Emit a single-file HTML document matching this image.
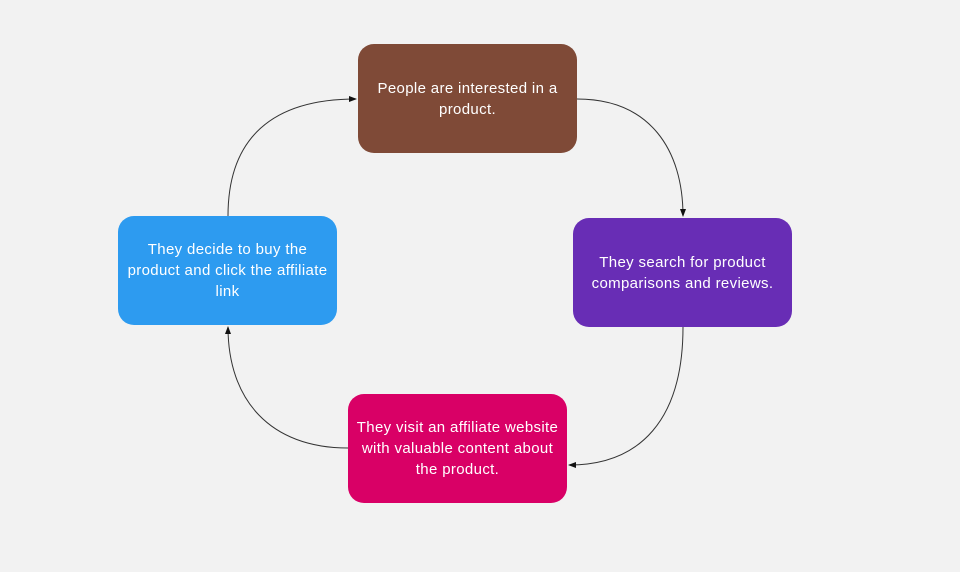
<!DOCTYPE html>
<html><head><meta charset="utf-8"><style>
body{margin:0;width:960px;height:572px;background:#f2f2f2;position:relative;overflow:hidden;font-family:"Liberation Sans","DejaVu Sans",sans-serif}
.b{position:absolute;width:219px;height:109px;border-radius:16px;color:#fff;font-size:15px;letter-spacing:0.35px;line-height:21px;display:flex;align-items:center;justify-content:center;text-align:center;box-sizing:border-box;padding:0 5px}
svg{position:absolute;left:0;top:0}
</style></head><body>
<svg width="960" height="572">
<defs><marker id="a" markerWidth="8" markerHeight="8" refX="7" refY="4" orient="auto" markerUnits="userSpaceOnUse"><path d="M0,1 L8,4 L0,7 z" fill="#111"/></marker></defs>
<g fill="none" stroke="#333" stroke-width="1">
<path d="M577,99 C650,99 683,150 683,216" marker-end="url(#a)"/>
<path d="M683,327 C683,420 640,465 569,465" marker-end="url(#a)"/>
<path d="M348,448 C270,448 228,400 228,327" marker-end="url(#a)"/>
<path d="M228,216 C228,140 270,99 356,99" marker-end="url(#a)"/>
</g></svg>
<div class="b" style="left:358px;top:44px;background:#7f4a37">People are interested in a product.</div>
<div class="b" style="left:573px;top:218px;background:#682db5">They search for product comparisons and reviews.</div>
<div class="b" style="left:348px;top:394px;background:#d90066">They visit an affiliate website with valuable content about the product.</div>
<div class="b" style="left:118px;top:216px;background:#2d9bf0">They decide to buy the<br>product and click the affiliate link</div>
</body></html>
